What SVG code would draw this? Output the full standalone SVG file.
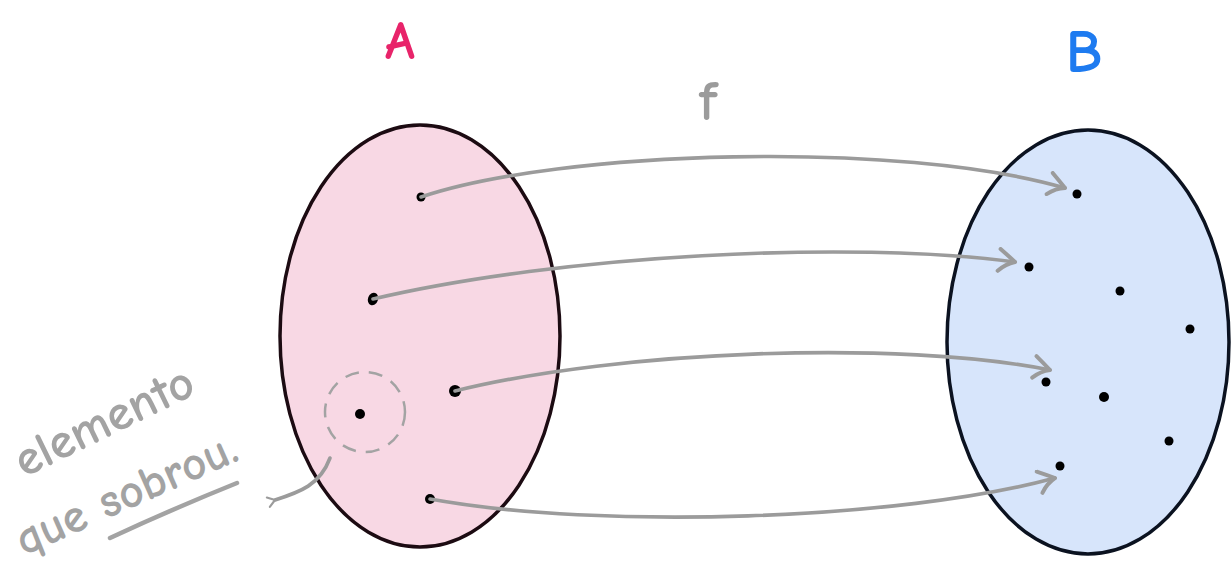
<svg xmlns="http://www.w3.org/2000/svg" width="1232" height="585" viewBox="0 0 1232 585">
<style>
.hand{font-family:"Comic Neue","DejaVu Sans","Liberation Sans",sans-serif;}
.conn{fill:none;stroke:#9b9b9b;stroke-width:3.6;stroke-linecap:round;stroke-linejoin:round;}
.dot{fill:#000;}
</style>
<defs>
<marker id="ah" viewBox="0 0 26 26" refX="22" refY="13" markerWidth="26" markerHeight="26" markerUnits="userSpaceOnUse" orient="auto">
<path d="M6,2 Q15,8 22,13 Q13,16 6,24" fill="none" stroke="#9b9b9b" stroke-width="4" stroke-linecap="round" stroke-linejoin="round"/>
</marker>
<marker id="ahs" viewBox="0 0 20 20" refX="4" refY="10" markerWidth="14" markerHeight="14" markerUnits="userSpaceOnUse" orient="auto">
<path d="M14,3 L4,10 L14,17" fill="none" stroke="#9b9b9b" stroke-width="3" stroke-linecap="round" stroke-linejoin="round"/>
</marker>
</defs>
<rect width="1232" height="585" fill="#fff"/>
<g id="setA">
<ellipse cx="420" cy="336" rx="140" ry="211" fill="#f8d8e4" stroke="#1c0b12" stroke-width="3.5"/>
<text x="400" y="59" class="hand" font-size="54" font-weight="bold" fill="#e8246a" text-anchor="middle">A</text>
<circle class="dot" cx="421" cy="197" r="4.5"/>
<ellipse class="dot" cx="373" cy="299" rx="5" ry="6.5" transform="rotate(20 373 299)"/>
<circle class="dot" cx="455" cy="391" r="6"/>
<circle class="dot" cx="360" cy="414" r="5"/>
<circle class="dot" cx="430" cy="499" r="5"/>
<circle cx="365" cy="412" r="40" fill="none" stroke="#a3a3a3" stroke-width="2.5" stroke-dasharray="14,10"/>
</g>
<g id="setB">
<ellipse cx="1088" cy="342" rx="141" ry="212" fill="#d7e5fb" stroke="#0b1220" stroke-width="3.5"/>
<text x="1084" y="72" class="hand" font-size="60" font-weight="bold" fill="#1e7bf0" text-anchor="middle">B</text>
<circle class="dot" cx="1077" cy="194" r="4.5"/>
<circle class="dot" cx="1029" cy="267" r="4.5"/>
<circle class="dot" cx="1120" cy="291" r="4.5"/>
<circle class="dot" cx="1190" cy="329" r="4.5"/>
<circle class="dot" cx="1046" cy="382" r="4.5"/>
<circle class="dot" cx="1104" cy="397" r="5"/>
<circle class="dot" cx="1169" cy="441" r="4.5"/>
<circle class="dot" cx="1060" cy="466" r="4.5"/>
</g>
<g id="label-f">
<text x="708" y="120" class="hand" font-size="56" font-weight="bold" fill="#9b9b9b" text-anchor="middle">f</text>
</g>
<g id="note">
<text class="hand" font-size="50" font-weight="bold" fill="#a3a3a3" transform="translate(24,478) rotate(-26)">elemento</text>
<text class="hand" font-size="48" font-weight="bold" fill="#a3a3a3" transform="translate(24,556) rotate(-24)">que sobrou.</text>
<path d="M110,538 Q170,510 237,483" fill="none" stroke="#a3a3a3" stroke-width="4.5" stroke-linecap="round"/>
</g>
<g id="connectors">
<path class="conn" d="M421,197 C560,150 900,140 1065,188" marker-end="url(#ah)"/>
<path class="conn" d="M373,299 C560,255 850,240 1015,262" marker-end="url(#ah)"/>
<path class="conn" d="M455,391 C620,350 900,340 1050,370" marker-end="url(#ah)"/>
<path class="conn" d="M430,499 C600,530 900,520 1055,478" marker-end="url(#ah)"/>
<path class="conn" stroke-width="2.5" d="M330,458 C320,485 300,492 275,500" marker-end="url(#ahs)"/>
</g>
</svg>
